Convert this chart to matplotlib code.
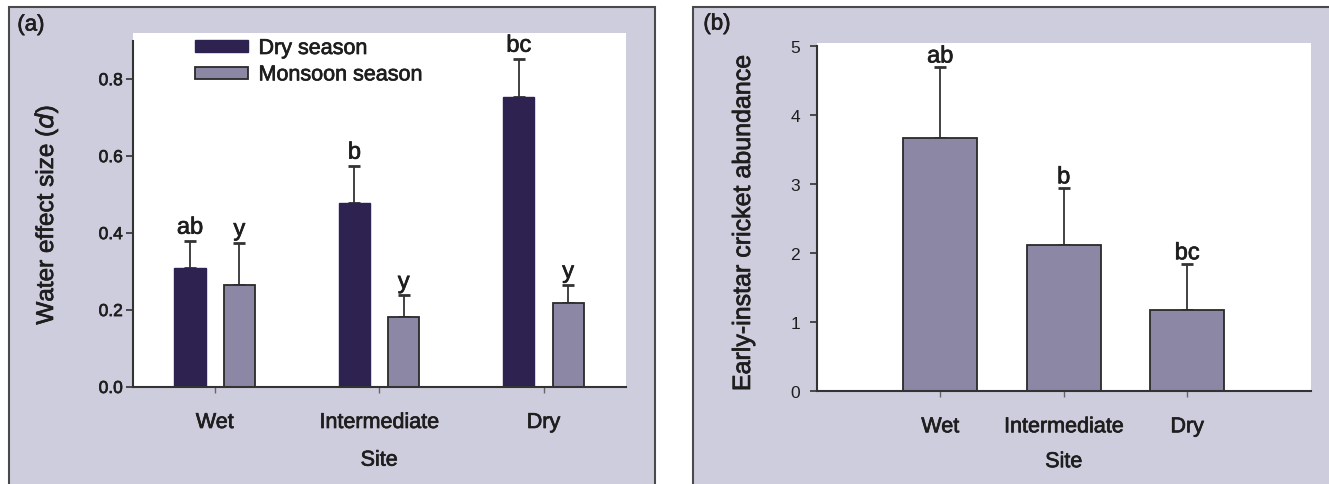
import matplotlib
matplotlib.use("Agg")
import matplotlib.pyplot as plt
from matplotlib.patches import Rectangle
import matplotlib.patheffects as pe
import matplotlib.text as mtext
import numpy as np

plt.rcParams['font.family'] = ['Liberation Sans', 'DejaVu Sans']

# ---- data ----
sites = ["Wet", "Intermediate", "Dry"]
dry_season = [0.31, 0.478, 0.753]
dry_season_err = [0.07, 0.097, 0.100]
monsoon_season = [0.265, 0.182, 0.218]
monsoon_season_err = [0.110, 0.056, 0.047]
dry_letters = ["ab", "b", "bc"]
monsoon_letters = ["y", "y", "y"]

abundance = [3.67, 2.12, 1.18]
abundance_err = [1.03, 0.83, 0.67]
abundance_letters = ["ab", "b", "bc"]

yticks_a = [0.0, 0.2, 0.4, 0.6, 0.8]
yticks_b = [0, 1, 2, 3, 4, 5]

# ---- style ----
W, H = 1329, 485
DARK = "#2d2250"
LIGHT = "#8b87a5"
BG = "#cecddd"
FRAME = "#4a4a4a"
AXC = "#333333"
TXT = "#1e1e1e"

fig = plt.figure(figsize=(W / 100, H / 100), dpi=100)
fig.patch.set_facecolor("white")

def px(x0, y0, x1, y1):
    # pixel box (top-left origin) -> figure fraction rect
    return [x0 / W, 1 - y1 / H, (x1 - x0) / W, (y1 - y0) / H]

# panel backgrounds
for (x0, x1) in [(9, 655), (693, 1345)]:
    r = Rectangle((x0 / W, -0.1), (x1 - x0) / W, 1 - 7.5 / H + 0.1,
                  transform=fig.transFigure, facecolor=BG, edgecolor=FRAME,
                  linewidth=1.5, zorder=-10)
    fig.patches.append(r)

def style_axes(ax):
    ax.set_facecolor("white")
    for s in ["top", "right"]:
        ax.spines[s].set_visible(False)
    for s in ["left", "bottom"]:
        ax.spines[s].set_color(AXC)
        ax.spines[s].set_linewidth(1.5)
    ax.tick_params(axis="y", direction="out", length=5, width=1.2, color=AXC,
                   labelsize=12.5, labelcolor=TXT)
    ax.tick_params(axis="x", direction="out", length=4, width=1.0, color="#666666",
                   labelsize=15.5, labelcolor=TXT, pad=14)

# ---- panel (a) ----
axa = fig.add_axes(px(132.5, 34, 625.7, 388))
style_axes(axa)
x = np.arange(len(sites))
bw = 0.19
off = 0.15
axa.bar(x - off, dry_season, bw, color=DARK, edgecolor=DARK, linewidth=1.0,
        label="Dry season", zorder=2)
axa.bar(x + off, monsoon_season, bw, color=LIGHT, edgecolor="#2a2a2a",
        linewidth=1.3, label="Monsoon season", zorder=2)
ekw = dict(fmt="none", ecolor=AXC, elinewidth=1.3, capsize=4.3, capthick=2.0, zorder=1)
axa.errorbar(x - off, dry_season, yerr=[np.zeros(3), dry_season_err], **ekw)
axa.errorbar(x + off, monsoon_season, yerr=[np.zeros(3), monsoon_season_err], **ekw)
for xi, v, e, t in zip(x - off, dry_season, dry_season_err, dry_letters):
    axa.annotate(t, (xi, v + e), xytext=(0, 1.5), textcoords="offset points",
                 ha="center", va="bottom", fontsize=17, color=TXT)
for xi, v, e, t in zip(x + off, monsoon_season, monsoon_season_err, monsoon_letters):
    axa.annotate(t, (xi, v + e), xytext=(0, 1.5), textcoords="offset points",
                 ha="center", va="bottom", fontsize=17, color=TXT)
axa.set_xlim(-0.5, 2.5)
axa.set_ylim(0, 0.92)
axa.spines["left"].set_bounds(0, 0.9)
axa.set_yticks(yticks_a)
axa.set_yticklabels([f"{v:.1f}" for v in yticks_a])
axa.tick_params(axis="y", pad=2)
axa.set_xticks(x)
axa.set_xticklabels(sites)
axa.set_xlabel("Site", fontsize=15.5, color=TXT, labelpad=12)
fig.text(46 / W, 1 - 216 / H, "Water effect size ($\\it{d}$)", rotation=90,
         ha="center", va="center", fontsize=17.5, color=TXT)
leg = axa.legend(loc="upper left", bbox_to_anchor=(195 / W, 1 - 39 / H),
                 bbox_transform=fig.transFigure, frameon=False, fontsize=15.5,
                 handlelength=2.45, handleheight=0.5, handletextpad=0.5,
                 labelspacing=0.25, borderpad=0, borderaxespad=0)
for t in leg.get_texts():
    t.set_color(TXT)
fig.text(31 / W, 1 - 26 / H, "(a)", ha="center", va="center", fontsize=16,
         color=TXT)

# ---- panel (b) ----
axb = fig.add_axes(px(816.7, 44.3, 1310.7, 392.3))
style_axes(axb)
axb.bar(x, abundance, 0.6, color=LIGHT, edgecolor="#2a2a2a", linewidth=1.3, zorder=2)
axb.errorbar(x, abundance, yerr=[np.zeros(3), abundance_err], **ekw)
for xi, v, e, t in zip(x, abundance, abundance_err, abundance_letters):
    axb.annotate(t, (xi, v + e), xytext=(0, -0.5), textcoords="offset points",
                 ha="center", va="bottom", fontsize=17, color=TXT)
axb.set_xlim(-1, 3)
axb.set_ylim(0, 5.04)
axb.spines["left"].set_bounds(0, 5)
axb.set_yticks(yticks_b)
axb.tick_params(axis="y", pad=7)
axb.set_xticks(x)
axb.set_xticklabels(sites)
axb.set_xlabel("Site", fontsize=15.5, color=TXT, labelpad=10)
fig.text(743 / W, 1 - 224 / H, "Early-instar cricket abundance", rotation=90,
         ha="center", va="center", fontsize=18, color=TXT)
fig.text(717 / W, 1 - 25 / H, "(b)", ha="center", va="center", fontsize=16,
         color=TXT)

# slightly heavier text rendering, like the printed original
for t in fig.findobj(mtext.Text):
    if t.get_text():
        t.set_path_effects([pe.withStroke(linewidth=0.5, foreground=TXT)])

fig.savefig("out.png", dpi=100)
